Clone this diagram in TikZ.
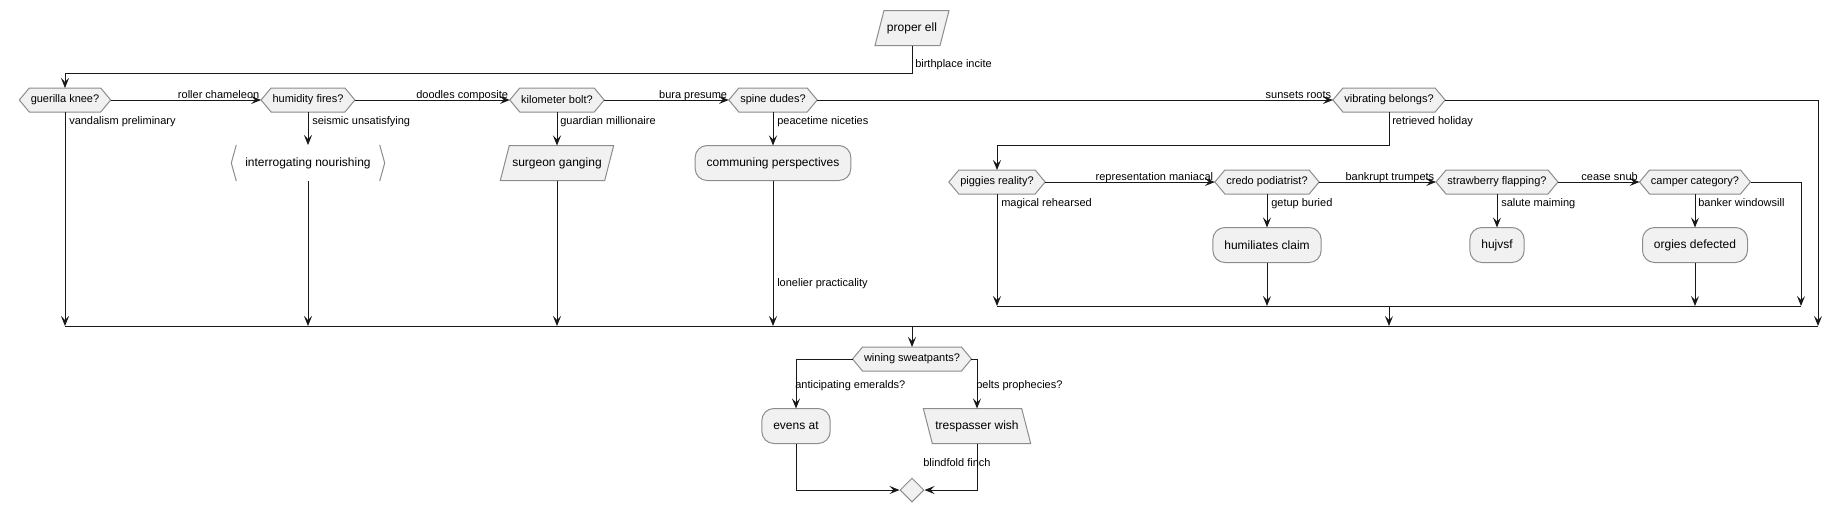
\documentclass[tikz,border=0pt]{standalone}
\usepackage{fontspec}
\setmainfont{Liberation Sans}
\usetikzlibrary{arrows.meta,shapes.geometric,backgrounds}
\definecolor{boxfill}{HTML}{F1F1F1}
\definecolor{boxline}{HTML}{8C8C8C}
\definecolor{ink}{HTML}{181818}
\newcommand\hexnode[3]{%
  \node[hexq] (#1) at (#2) {#3};
  \begin{pgfonlayer}{background}
    \path[shapeframe] (#1.west) -- ([xshift=7.5pt]#1.north west) -- ([xshift=-7.5pt]#1.north east)
      -- (#1.east) -- ([xshift=-7.5pt]#1.south east) -- ([xshift=7.5pt]#1.south west) -- cycle;
  \end{pgfonlayer}}
\newcommand\paranode[3]{%
  \node[parq] (#1) at (#2) {#3};
  \begin{pgfonlayer}{background}
    \path[shapeframe] (#1.south west) -- ([xshift=6.75pt]#1.north west) -- (#1.north east)
      -- ([xshift=-6.75pt]#1.south east) -- cycle;
  \end{pgfonlayer}}
\newcommand\revparanode[3]{%
  \node[parq] (#1) at (#2) {#3};
  \begin{pgfonlayer}{background}
    \path[shapeframe] (#1.north west) -- ([xshift=-6.75pt]#1.north east) -- (#1.south east)
      -- ([xshift=6.75pt]#1.south west) -- cycle;
  \end{pgfonlayer}}
\begin{document}
\begin{tikzpicture}[x=0.75pt,y=-0.75pt,
  hexq/.style={inner xsep=8.6pt, inner ysep=0pt, minimum height=18pt, outer sep=0pt, font=\fontsize{8.25}{10}\selectfont},
  parq/.style={inner xsep=9pt, inner ysep=0pt, minimum height=26.25pt, outer sep=0pt, font=\fontsize{9}{11}\selectfont},
  shapeframe/.style={draw=boxline, fill=boxfill, line width=0.75pt},
  act/.style={shapeframe, rounded corners=9pt, inner xsep=8.6pt, inner ysep=0pt, minimum height=26.25pt, outer sep=0pt, font=\fontsize{9}{11}\selectfont},
  sig/.style={inner xsep=10.5pt, inner ysep=0pt, minimum height=27pt, outer sep=0pt, font=\fontsize{9}{11}\selectfont},
  lbl/.style={inner sep=0pt, font=\fontsize{8.25}{10}\selectfont},
  wire/.style={draw=ink, line width=0.75pt},
  flow/.style={wire, -{Stealth[length=7.5pt,width=6pt,inset=3pt]}}]
\useasboundingbox (0,0) rectangle (1843,512);
% nodes
\paranode{proper}{912,28}{proper ell}
\hexnode{guerilla}{65,100}{guerilla knee?}
\hexnode{humidity}{308,100}{humidity fires?}
\hexnode{kilometer}{557,100}{kilometer bolt?}
\hexnode{spine}{773,100}{spine dudes?}
\hexnode{vibrating}{1389,100}{vibrating belongs?}
\node[sig] (interrog) at (308,163) {interrogating nourishing};
\draw[draw=boxline, line width=0.75pt] ([xshift=3.75pt]interrog.north west) -- (interrog.west) -- ([xshift=3.75pt]interrog.south west);
\draw[draw=boxline, line width=0.75pt] ([xshift=-3.75pt]interrog.north east) -- (interrog.east) -- ([xshift=-3.75pt]interrog.south east);
\paranode{surgeon}{557,163}{surgeon ganging}
\node[act] (communing) at (773,163) {communing perspectives};
\hexnode{piggies}{997,182}{piggies reality?}
\hexnode{credo}{1267,182}{credo podiatrist?}
\hexnode{strawberry}{1497,182}{strawberry flapping?}
\hexnode{camper}{1695,182}{camper category?}
\node[act] (humiliates) at (1267,245) {humiliates claim};
\node[act] (hujvsf) at (1497,245) {hujvsf};
\node[act] (orgies) at (1695,245) {orgies defected};
\hexnode{wining}{912,359}{wining sweatpants?}
\node[act] (evens) at (796,426) {evens at};
\revparanode{tresp}{977,426}{trespasser wish}
\node[diamond, shapeframe, aspect=1, minimum size=18pt, inner sep=0pt] (endmerge) at (912,490) {};
% bend coordinates
\coordinate (topbar) at (0,73);
\coordinate (loopbar) at (0,145);
\coordinate (innerbar) at (0,306);
\coordinate (mainbar) at (0,326);
\coordinate (vturn) at (1818,326);
\coordinate (cturn) at (1801,306);
% connectors
\draw[flow] (proper.south) |- (guerilla.north |- topbar) -- (guerilla.north);
\draw[flow] (guerilla.east) -- (humidity.west);
\draw[flow] (humidity.east) -- (kilometer.west);
\draw[flow] (kilometer.east) -- (spine.west);
\draw[flow] (spine.east) -- (vibrating.west);
\draw[flow] (vibrating.east) -| (vturn);
\draw[flow] (guerilla.south) -- (guerilla.south |- mainbar);
\draw[flow] (humidity.south) -- (interrog.north);
\draw[flow] (interrog.south) -- (interrog.south |- mainbar);
\draw[flow] (kilometer.south) -- (surgeon.north);
\draw[flow] (surgeon.south) -- (surgeon.south |- mainbar);
\draw[flow] (spine.south) -- (communing.north);
\draw[flow] (communing.south) -- (communing.south |- mainbar);
\draw[flow] (vibrating.south) |- (piggies.north |- loopbar) -- (piggies.north);
\draw[flow] (piggies.east) -- (credo.west);
\draw[flow] (credo.east) -- (strawberry.west);
\draw[flow] (strawberry.east) -- (camper.west);
\draw[flow] (piggies.south) -- (piggies.south |- innerbar);
\draw[flow] (credo.south) -- (humiliates.north);
\draw[flow] (humiliates.south) -- (humiliates.south |- innerbar);
\draw[flow] (strawberry.south) -- (hujvsf.north);
\draw[flow] (camper.south) -- (orgies.north);
\draw[flow] (orgies.south) -- (orgies.south |- innerbar);
\draw[flow] (camper.east) -| (cturn);
\draw[wire] (piggies.south |- innerbar) -- (cturn);
\draw[flow] (vibrating.south |- innerbar) -- (vibrating.south |- mainbar);
\draw[wire] (guerilla.south |- mainbar) -- (vturn);
\draw[flow] (wining.north |- mainbar) -- (wining.north);
\draw[flow] (wining.west) -| (evens.north);
\draw[flow] (wining.east) -| (tresp.north);
\draw[flow] (evens.south) |- (endmerge.west);
\draw[flow] (tresp.south) |- (endmerge.east);
% labels
\node[lbl, anchor=base west] (lbirth) at ([shift={(3,21.5)}]proper.south) {birthplace incite};
\node[lbl, anchor=base east] (lroller) at ([shift={(-1.5,-1.5)}]humidity.west) {roller chameleon};
\node[lbl, anchor=base east] (ldoodles) at ([shift={(-1.5,-1.5)}]kilometer.west) {doodles composite};
\node[lbl, anchor=base east] (lbura) at ([shift={(-1.5,-1.5)}]spine.west) {bura presume};
\node[lbl, anchor=base east] (lsunsets) at ([shift={(-1.5,-1.5)}]vibrating.west) {sunsets roots};
\node[lbl, anchor=base east] (lrepr) at ([shift={(-1.5,-1.5)}]credo.west) {representation maniacal};
\node[lbl, anchor=base east] (lbank) at ([shift={(-1.5,-1.5)}]strawberry.west) {bankrupt trumpets};
\node[lbl, anchor=base east] (lcease) at ([shift={(-1.5,-1.5)}]camper.west) {cease snub};
\node[lbl, anchor=base west] (lvand) at ([shift={(4,12)}]guerilla.south) {vandalism preliminary};
\node[lbl, anchor=base west] (lseis) at ([shift={(4,12)}]humidity.south) {seismic unsatisfying};
\node[lbl, anchor=base west] (lguard) at ([shift={(3,12)}]kilometer.south) {guardian millionaire};
\node[lbl, anchor=base west] (lpeace) at ([shift={(4,12)}]spine.south) {peacetime niceties};
\node[lbl, anchor=base west] (lretr) at ([shift={(3,12)}]vibrating.south) {retrieved holiday};
\node[lbl, anchor=base west] (llone) at ([shift={(4,106)}]communing.south) {lonelier practicality};
\node[lbl, anchor=base west] (lmag) at ([shift={(4,12)}]piggies.south) {magical rehearsed};
\node[lbl, anchor=base west] (lgetup) at ([shift={(4,12)}]credo.south) {getup buried};
\node[lbl, anchor=base west] (lsalute) at ([shift={(4,12)}]strawberry.south) {salute maiming};
\node[lbl, anchor=base west] (lbanker) at ([shift={(3,12)}]camper.south) {banker windowsill};
\node[lbl, anchor=base west] (lantic) at ([shift={(-1,-20)}]evens.north) {anticipating emeralds?};
\node[lbl, anchor=base west] (lpelts) at ([shift={(-1,-20)}]tresp.north) {pelts prophecies?};
\node[lbl, anchor=base west] (lblind) at ([shift={(-54,23)}]tresp.south) {blindfold finch};
\end{tikzpicture}
\end{document}
